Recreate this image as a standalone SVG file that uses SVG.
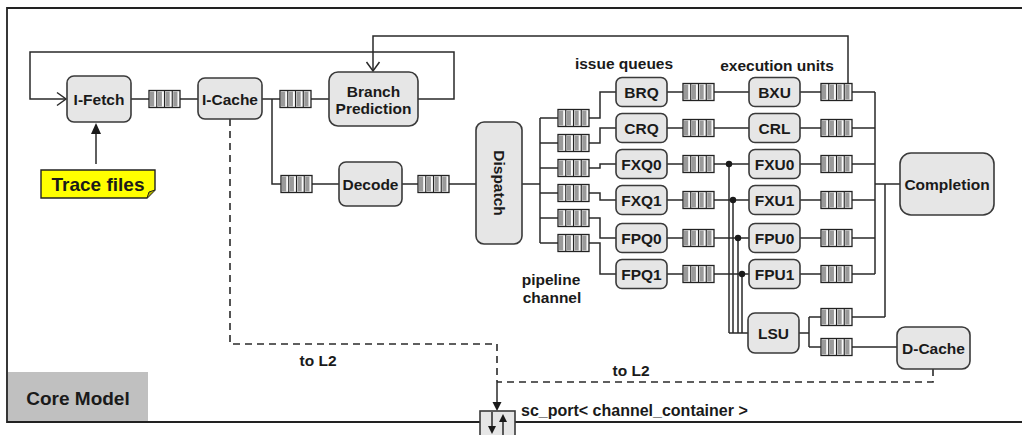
<svg xmlns="http://www.w3.org/2000/svg" xmlns:xlink="http://www.w3.org/1999/xlink" width="1022" height="435" viewBox="0 0 1022 435">
  <style>
    .box { fill: #e6e6e6; stroke: #3a3a3a; stroke-width: 1.6; }
    .lbl { font-family: "Liberation Sans", Arial, sans-serif; font-weight: bold; font-size: 15.5px; fill: #1a1a1a; text-anchor: middle; dominant-baseline: central; }
    .big { font-size: 19px; }
    .wire { fill: none; stroke: #2a2a2a; stroke-width: 1.5; }
    .dash { fill: none; stroke: #2a2a2a; stroke-width: 1.6; stroke-dasharray: 7 5; }
    .head { fill: #1a1a1a; }
    .frame { fill: none; stroke: #222; stroke-width: 1.8; }
  </style>
  <defs>
    <!-- FIFO channel icon, 31 x 17 -->
    <g id="fifo">
      <rect x="0" y="0" width="31" height="17" fill="#fafafa" stroke="#222" stroke-width="1.3"/>
      <rect x="1" y="1" width="4.2" height="15" fill="#9a9a9a"/>
      <rect x="8.75" y="1" width="4.2" height="15" fill="#9a9a9a"/>
      <rect x="16.5" y="1" width="4.2" height="15" fill="#9a9a9a"/>
      <rect x="24.25" y="1" width="4.2" height="15" fill="#9a9a9a"/>
      <path d="M7.75 0V17M15.5 0V17M23.25 0V17" stroke="#222" stroke-width="1.1"/>
    </g>
  </defs>

  <rect width="1022" height="435" fill="#ffffff"/>

  <!-- module frame -->
  <g id="frame">
    <rect x="8" y="372" width="140" height="49" fill="#c0c0c0"/>
    <path class="frame" d="M1022 8H7V422H480M515 422H1022"/>
    <text class="lbl big" x="78" y="398">Core Model</text>
  </g>

  <!-- connectors -->
  <g id="connectors">
    <path class="wire" d="M131 99H149M180 99H198M262 99H280M311 99H329"/>
    <path class="wire" d="M272 99V184H281M312 184H339M402 184H418M449 184H476"/>
    <!-- branch feedback to fetch -->
    <path class="wire" d="M418 99H454V52H30V99H65"/>
    <path class="wire" d="M57 92.5L66 99L57 105.5"/>
    <!-- branch resolution back to predictor -->
    <path class="wire" d="M848 83.5V36H373V70"/>
    <path class="wire" d="M366.5 62L373 71L379.5 62"/>
    <!-- trace input -->
    <path class="wire" d="M96 164V132"/>
    <polygon class="head" points="96,123 91,134 101,134"/>
    <!-- dispatch fan-out -->
    <path class="wire" d="M522 184H540M540 118V243M540 118H558M540 143H558M540 168H558M540 193H558M540 218H558M540 243H558"/>
    <path class="wire" d="M589 118H600V92H616M589 143H600V128H616M589 168H600V164H616M589 193H600V200H616M589 218H600V238H616M589 243H600V274H616"/>
    <!-- issue queues to execution units -->
    <path class="wire" d="M667 92H683M714 92H749M667 128H683M714 128H749M667 164H683M714 164H749M667 200H683M714 200H749M667 238H683M714 238H749M667 274H683M714 274H749"/>
    <!-- execution results -->
    <path class="wire" d="M800 92H821M852 92H875M800 128H821M852 128H875M800 164H821M852 164H875M800 200H821M852 200H875M800 238H821M852 238H875M800 274H821M852 274H875"/>
    <path class="wire" d="M875 92V274M875 184H900M885 184V317M852 317H885"/>
    <!-- load/store -->
    <path class="wire" d="M799 333H809M809 317V347M809 317H821M809 347H821M852 347H897"/>
    <path class="wire" d="M729 164V333M733 200V333M738 238V333M742 274V333M729 333H748"/>
    <circle class="head" cx="729" cy="164" r="3.2"/>
    <circle class="head" cx="733" cy="200" r="3.2"/>
    <circle class="head" cx="738" cy="238" r="3.2"/>
    <circle class="head" cx="742" cy="274" r="3.2"/>
    <!-- L2 paths -->
    <path class="dash" d="M230 119V344H497V382"/>
    <path class="dash" d="M933 369V382H497"/>
    <path class="wire" d="M497 382V403"/>
    <polygon class="head" points="497,411 492.5,402 501.5,402"/>
  </g>

  <!-- channel FIFOs -->
  <g id="fifos">
    <use xlink:href="#fifo" x="149" y="90.5"/>
    <use xlink:href="#fifo" x="280" y="90.5"/>
    <use xlink:href="#fifo" x="281" y="175.5"/>
    <use xlink:href="#fifo" x="418" y="175.5"/>
    <use xlink:href="#fifo" x="558" y="109.5"/>
    <use xlink:href="#fifo" x="558" y="134.5"/>
    <use xlink:href="#fifo" x="558" y="159.5"/>
    <use xlink:href="#fifo" x="558" y="184.5"/>
    <use xlink:href="#fifo" x="558" y="209.5"/>
    <use xlink:href="#fifo" x="558" y="234.5"/>
    <use xlink:href="#fifo" x="683" y="83.5"/>
    <use xlink:href="#fifo" x="683" y="119.5"/>
    <use xlink:href="#fifo" x="683" y="155.5"/>
    <use xlink:href="#fifo" x="683" y="191.5"/>
    <use xlink:href="#fifo" x="683" y="229.5"/>
    <use xlink:href="#fifo" x="683" y="265.5"/>
    <use xlink:href="#fifo" x="821" y="83.5"/>
    <use xlink:href="#fifo" x="821" y="119.5"/>
    <use xlink:href="#fifo" x="821" y="155.5"/>
    <use xlink:href="#fifo" x="821" y="191.5"/>
    <use xlink:href="#fifo" x="821" y="229.5"/>
    <use xlink:href="#fifo" x="821" y="265.5"/>
    <use xlink:href="#fifo" x="821" y="308.5"/>
    <use xlink:href="#fifo" x="821" y="338.5"/>
  </g>

  <g id="trace-files">
    <path d="M41 170H155V190L147 198H41Z" fill="#ffff00" stroke="#222" stroke-width="1.4"/>
    <path d="M147 198L149 192L155 190" fill="#b0b000" stroke="#222" stroke-width="1"/>
    <text class="lbl" x="98" y="184" style="font-size:19px">Trace files</text>
  </g>

  <g id="i-fetch"><rect class="box" x="67" y="76" width="64" height="46" rx="7"/><text class="lbl" x="99" y="99">I-Fetch</text></g>
  <g id="i-cache"><rect class="box" x="198" y="78" width="64" height="41" rx="7"/><text class="lbl" x="230" y="99">I-Cache</text></g>
  <g id="branch-prediction"><rect class="box" x="329" y="72" width="89" height="54" rx="9"/><text class="lbl" x="373.5" y="91">Branch</text><text class="lbl" x="373.5" y="108">Prediction</text></g>
  <g id="decode"><rect class="box" x="339" y="162" width="63" height="44" rx="7"/><text class="lbl" x="370.5" y="184">Decode</text></g>
  <g id="dispatch"><rect class="box" x="476" y="122" width="46" height="122" rx="8"/><text class="lbl" transform="translate(499 183) rotate(90)">Dispatch</text></g>

  <g id="brq"><rect class="box" x="616" y="77.5" width="51" height="29" rx="6"/><text class="lbl" x="641.5" y="92">BRQ</text></g>
  <g id="crq"><rect class="box" x="616" y="113.5" width="51" height="29" rx="6"/><text class="lbl" x="641.5" y="128">CRQ</text></g>
  <g id="fxq0"><rect class="box" x="616" y="149.5" width="51" height="29" rx="6"/><text class="lbl" x="641.5" y="164">FXQ0</text></g>
  <g id="fxq1"><rect class="box" x="616" y="185.5" width="51" height="29" rx="6"/><text class="lbl" x="641.5" y="200">FXQ1</text></g>
  <g id="fpq0"><rect class="box" x="616" y="223.5" width="51" height="29" rx="6"/><text class="lbl" x="641.5" y="238">FPQ0</text></g>
  <g id="fpq1"><rect class="box" x="616" y="259.5" width="51" height="29" rx="6"/><text class="lbl" x="641.5" y="274">FPQ1</text></g>

  <g id="bxu"><rect class="box" x="749" y="77.5" width="51" height="29" rx="6"/><text class="lbl" x="774.5" y="92">BXU</text></g>
  <g id="crl"><rect class="box" x="749" y="113.5" width="51" height="29" rx="6"/><text class="lbl" x="774.5" y="128">CRL</text></g>
  <g id="fxu0"><rect class="box" x="749" y="149.5" width="51" height="29" rx="6"/><text class="lbl" x="774.5" y="164">FXU0</text></g>
  <g id="fxu1"><rect class="box" x="749" y="185.5" width="51" height="29" rx="6"/><text class="lbl" x="774.5" y="200">FXU1</text></g>
  <g id="fpu0"><rect class="box" x="749" y="223.5" width="51" height="29" rx="6"/><text class="lbl" x="774.5" y="238">FPU0</text></g>
  <g id="fpu1"><rect class="box" x="749" y="259.5" width="51" height="29" rx="6"/><text class="lbl" x="774.5" y="274">FPU1</text></g>
  <g id="lsu"><rect class="box" x="748" y="313" width="51" height="40" rx="7"/><text class="lbl" x="773.5" y="333">LSU</text></g>

  <g id="completion"><rect class="box" x="900" y="153" width="94" height="62" rx="11"/><text class="lbl" x="947" y="184">Completion</text></g>
  <g id="d-cache"><rect class="box" x="897" y="327" width="73" height="42" rx="8"/><text class="lbl" x="933.5" y="348">D-Cache</text></g>

  <g id="sc-port">
    <rect class="box" x="480" y="411" width="35" height="30"/>
    <path class="wire" d="M492 412V428M503 435V421"/>
    <polygon class="head" points="492,434 488,426 496,426"/>
    <polygon class="head" points="503,414 499,422 507,422"/>
    <text class="lbl" x="521" y="410" style="text-anchor:start;font-size:16px">sc_port&lt; channel_container &gt;</text>
  </g>

  <g id="labels">
    <text class="lbl" x="624" y="63">issue queues</text>
    <text class="lbl" x="777" y="65">execution units</text>
    <text class="lbl" x="551" y="279">pipeline</text>
    <text class="lbl" x="552" y="297">channel</text>
    <text class="lbl" x="318" y="360">to L2</text>
    <text class="lbl" x="631" y="370">to L2</text>
  </g>
</svg>
